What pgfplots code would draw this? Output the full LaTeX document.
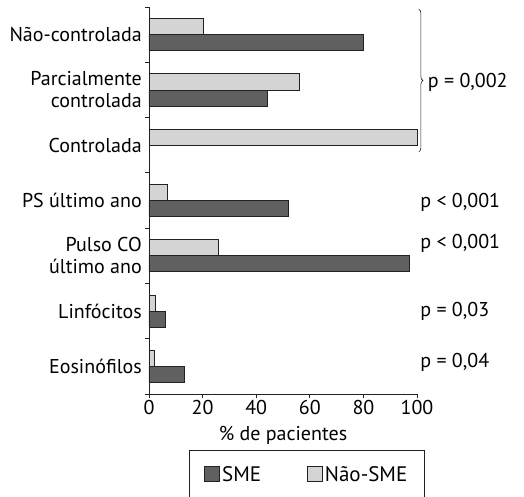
\documentclass[border=0pt]{standalone}
\usepackage{pgfplots}
\pgfplotsset{compat=1.18}
\usepackage{fontspec}
\setmainfont{PT Sans}
\usetikzlibrary{decorations.pathreplacing}
\definecolor{dk}{HTML}{606060}
\definecolor{lt}{HTML}{D4D4D4}
\definecolor{edge}{HTML}{222222}
\begin{document}
\begin{tikzpicture}[font=\fontsize{20}{22}\selectfont]
\useasboundingbox (-149pt,-103pt) rectangle (375pt,394pt);
\begin{axis}[
  at={(0,0)}, anchor=south west,
  scale only axis, width=268pt, height=387pt,
  xmin=0, xmax=100, ymin=0, ymax=7, y dir=reverse,
  axis lines=left, axis line style={-, line width=0.8pt, edge},
  clip=false,
  /pgf/number format/assume math mode=true,
  xtick={0,20,40,60,80,100}, tick align=outside,
  major tick length=4pt, minor tick length=4pt,
  every tick/.style={line width=0.8pt, edge},
  ytick={0.5,1.5,2.5,3.5,4.5,5.5,6.5},
  yticklabels={Não-controlada,{Parcialmente\\controlada},Controlada,PS último ano,{Pulso CO\\último ano},Linfócitos,Eosinófilos},
  yticklabel style={align=right, font=\fontsize{20}{22}\selectfont, inner xsep=3pt},
  major y tick style={draw=none},
  minor ytick={0,1,2,3,4,5,6,7},
  xticklabel style={font=\fontsize{20}{22}\selectfont, inner ysep=2pt},
  xlabel={\% de pacientes},
  xlabel style={yshift=-6pt},
  legend columns=2,
  legend style={at={(0.149,-0.145)}, anchor=north west, draw=edge, line width=0.8pt,
    inner xsep=15pt, inner ysep=14pt,
    /tikz/every even column/.append style={column sep=44pt},
    font=\fontsize{21}{23}\selectfont},
  legend image code/.code={\draw[#1, line width=0.8pt] (0pt,-7pt) rectangle (15pt,8pt);},
]
\addplot[xbar, bar width=0.29, bar shift=0.145, fill=dk, draw=edge, line width=0.8pt]
  coordinates {(80,0.5) (44,1.5) (52,3.5) (97,4.5) (6.25,5.5) (13.25,6.5)};
\addplot[xbar, bar width=0.29, bar shift=-0.145, fill=lt, draw=edge, line width=0.8pt]
  coordinates {(20.3,0.5) (56,1.5) (100,2.5) (7,3.5) (26,4.5) (2.4,5.5) (2.1,6.5)};
\legend{SME, Não-SME}
\draw[edge, line width=0.6pt, decorate, decoration={brace, amplitude=4pt}]
  (axis cs:100.7,0.04) -- (axis cs:100.7,2.62);
\node[anchor=west, inner sep=0pt] at (axis cs:104,1.37) {p = 0,002};
\node[anchor=west, inner sep=0pt] at (axis cs:101.2,3.53) {p < 0,001};
\node[anchor=west, inner sep=0pt] at (axis cs:101.2,4.27) {p < 0,001};
\node[anchor=west, inner sep=0pt] at (axis cs:101.2,5.51) {p = 0,03};
\node[anchor=west, inner sep=0pt] at (axis cs:101.2,6.42) {p = 0,04};
\end{axis}
\end{tikzpicture}
\end{document}
